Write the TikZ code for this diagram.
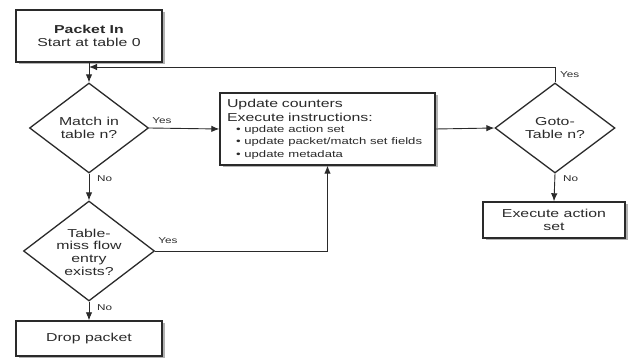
\documentclass[tikz,border=0pt]{standalone}
\usepackage{fontspec}
\setmainfont{Liberation Sans}[FakeStretch=1.38]
\usetikzlibrary{shapes.geometric,shadows,arrows.meta}
\definecolor{ink}{HTML}{2A2A2A}
\tikzset{
  box/.style={draw=ink, line width=1.4pt, fill=white, rectangle, inner sep=0pt,
    drop shadow={shadow xshift=2.5pt, shadow yshift=-2.5pt, opacity=0.3, fill=black},
    font=\fontsize{11.5}{13}\selectfont, text=ink, align=center},
  decision/.style={draw=ink, line width=1.3pt, fill=white, diamond, inner sep=0pt},
  dtext/.style={font=\fontsize{11.5}{12.7}\selectfont, text=ink, align=center, inner sep=0pt},
  conn/.style={draw=ink, line width=0.9pt},
  arr/.style={conn, -{Latex[length=8pt,width=6.5pt]}},
  lbl/.style={font=\fontsize{8.5}{10}\selectfont, text=ink, inner sep=1pt},
}
\begin{document}
\begin{tikzpicture}[x=1pt,y=-1pt]
\useasboundingbox (0,0) rectangle (633,358);
% nodes
\node[box, line width=2.6pt, minimum width=146, minimum height=52] (pkt) at (89,36)
  {\textbf{Packet In}\\Start at table 0};
\node[decision, minimum width=119, minimum height=90] (match) at (89,128) {};
\node[dtext] (matcht) at (match) {Match in\\table n?};
\node[decision, minimum width=131, minimum height=100] (miss) at (89,251) {};
\node[dtext] (misst) at (89,252) {Table-\\miss flow\\entry\\exists?};
\node[box, minimum width=146, minimum height=35] (drop) at (89,338.5) {Drop packet};
\node[box, minimum width=215, minimum height=72, text width=201, align=left] (upd) at (327.5,129)
  {Update counters\\[1pt]
   Execute instructions:\\[-1pt]
   {\fontsize{9.5}{12}\selectfont
   \hspace*{9pt}• update action set\\
   \hspace*{9pt}• update packet/match set fields\\
   \hspace*{9pt}• update metadata}};
\node[decision, minimum width=120, minimum height=90] (goto) at (555,128) {};
\node[dtext] (gotot) at (goto) {Goto-\\Table n?};
\node[box, minimum width=142, minimum height=36] (exec) at (554,220) {Execute action\\set};
\coordinate (join) at (89,67);
\coordinate (top) at (555,67);
% connectors
\draw[arr] (pkt.south) -- (match.north);
\draw[arr] (goto.north) -- (top) -- (join);
\draw[arr] (match.east) -- (upd.west);
\draw[arr] (match.south) -- (miss.north);
\draw[arr] (miss.east) -| (upd.south);
\draw[arr] (miss.south) -- (drop.north);
\draw[arr] (upd.east) -- (goto.west);
\draw[arr] (goto.south) -- (exec.north);
% labels
\node[lbl, anchor=south west] (y1) at ([xshift=2pt,yshift=3pt]match.east) {Yes};
\node[lbl, anchor=north west] (n1) at ([xshift=7pt,yshift=-1pt]match.south) {No};
\node[lbl, anchor=south west] (y2) at ([xshift=2pt,yshift=6pt]miss.east) {Yes};
\node[lbl, anchor=north west] (n2) at ([xshift=7pt,yshift=-2pt]miss.south) {No};
\node[lbl, anchor=north west] (n3) at ([xshift=7pt,yshift=-1pt]goto.south) {No};
\node[lbl, anchor=west] (y3) at (559,75) {Yes};
\end{tikzpicture}
\end{document}
